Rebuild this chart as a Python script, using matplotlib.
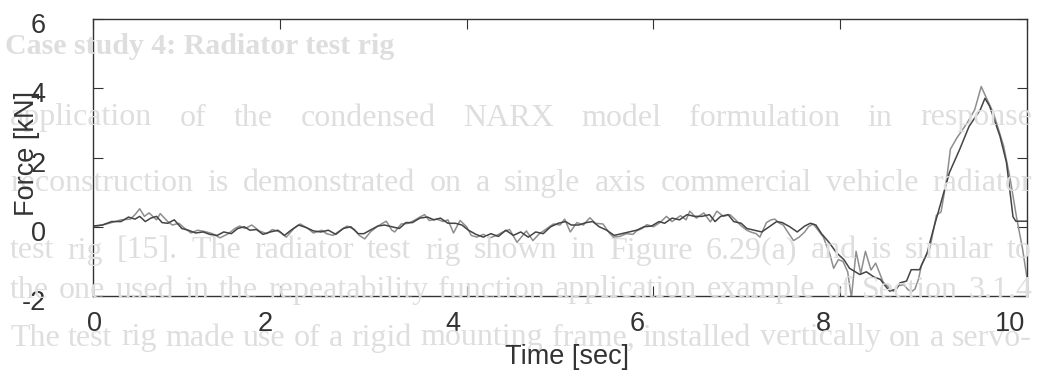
import matplotlib
matplotlib.use("Agg")
import matplotlib.pyplot as plt
import matplotlib.transforms as mtransforms

# measured force (lighter trace)
t_meas = [0.0, 0.1, 0.2, 0.3, 0.4, 0.45, 0.5, 0.55, 0.6, 0.68, 0.72, 0.8, 0.85, 0.92, 0.97,
          1.05, 1.12, 1.2, 1.28, 1.36, 1.45, 1.52, 1.57, 1.63, 1.7, 1.78, 1.86, 1.92,
          2.0, 2.07, 2.15, 2.22, 2.3, 2.36, 2.45, 2.5, 2.57, 2.65, 2.72, 2.8, 2.85, 2.91, 2.97,
          3.04, 3.1, 3.14, 3.2, 3.23, 3.3, 3.38, 3.45, 3.5, 3.55, 3.6, 3.68, 3.75, 3.8, 3.86, 3.93,
          4.0, 4.05, 4.11, 4.18, 4.25, 4.32, 4.39, 4.46, 4.54, 4.6, 4.64, 4.71, 4.78, 4.86, 4.93,
          5.0, 5.05, 5.11, 5.18, 5.25, 5.32, 5.38, 5.46, 5.52, 5.57, 5.64, 5.71, 5.78, 5.82, 5.88, 5.93,
          6.0, 6.07, 6.14, 6.2, 6.29, 6.35, 6.39, 6.46, 6.54, 6.61, 6.68, 6.75, 6.82, 6.88, 6.93,
          7.0, 7.04, 7.1, 7.14, 7.21, 7.26, 7.3, 7.35, 7.39, 7.45, 7.5, 7.56, 7.62, 7.66, 7.71, 7.75,
          7.82, 7.89, 7.93, 7.98, 8.03, 8.08, 8.12, 8.17, 8.22, 8.27, 8.33, 8.38, 8.46, 8.52, 8.57,
          8.63, 8.68, 8.72, 8.76, 8.8, 8.84, 8.87, 8.96, 9.03, 9.08, 9.14, 9.18, 9.25, 9.36, 9.44,
          9.51, 9.56, 9.64, 9.75, 9.82, 9.89, 9.95, 10.0]
f_meas = [0.0, 0.05, 0.12, 0.2, 0.22, 0.35, 0.52, 0.3, 0.4, 0.2, 0.38, 0.15, 0.05, 0.1, -0.02,
          -0.18, -0.1, -0.14, -0.2, -0.32, -0.2, -0.05, 0.02, -0.05, 0.05, -0.12, -0.2, -0.08,
          -0.15, -0.3, -0.05, 0.08, -0.05, -0.18, -0.1, -0.2, -0.25, -0.1, 0.02, -0.08, -0.25, -0.35, -0.15,
          0.0, 0.1, 0.16, -0.1, -0.15, 0.08, 0.1, 0.2, 0.28, 0.35, 0.18, 0.22, 0.15, 0.2, -0.18, 0.18,
          0.0, -0.25, -0.3, -0.22, -0.32, -0.25, -0.15, -0.08, -0.45, -0.25, -0.12, -0.4, -0.2, -0.05, 0.08,
          0.05, 0.22, -0.15, 0.12, 0.05, 0.26, 0.1, 0.08, -0.15, -0.3, -0.28, -0.2, -0.22, -0.12, -0.05, 0.06,
          0.0, 0.12, 0.3, 0.15, 0.32, 0.2, 0.45, 0.25, 0.4, 0.14, 0.45, 0.3, 0.35, 0.2, 0.05,
          -0.1, -0.15, -0.2, -0.3, 0.12, 0.2, 0.22, 0.1, 0.05, -0.2, -0.4, -0.3, -0.15, 0.0, 0.08, -0.05,
          -0.3, -0.8, -1.2, -0.95, -1.0, -1.3, -2.05, -0.71, -1.35, -0.71, -1.25, -1.05, -1.6, -1.75, -1.86,
          -1.7, -1.67, -1.8, -1.88, -1.8, -1.5, -1.1, -0.62, 0.33, 0.43, 1.38, 2.24, 2.57, 3.0, 3.38,
          4.05, 3.75, 3.29, 2.33, 1.38, 0.24, -0.6, -1.48]

# model prediction (darker trace)
t_pred = [0.0, 0.1, 0.2, 0.3, 0.38, 0.45, 0.5, 0.56, 0.62, 0.68, 0.74, 0.8, 0.87, 0.95,
          1.02, 1.1, 1.18, 1.25, 1.33, 1.4, 1.48, 1.55, 1.62, 1.68, 1.75, 1.82, 1.9, 1.98,
          2.05, 2.12, 2.2, 2.28, 2.36, 2.44, 2.52, 2.6, 2.68, 2.76, 2.84, 2.9, 2.98,
          3.05, 3.12, 3.2, 3.28, 3.35, 3.42, 3.5, 3.58, 3.65, 3.72, 3.8, 3.88, 3.95,
          4.02, 4.1, 4.18, 4.26, 4.34, 4.42, 4.5, 4.58, 4.66, 4.74, 4.82, 4.9, 4.98,
          5.06, 5.12, 5.2, 5.28, 5.35, 5.42, 5.5, 5.58, 5.66, 5.74, 5.82, 5.9, 5.98,
          6.06, 6.12, 6.2, 6.28, 6.36, 6.44, 6.52, 6.6, 6.66, 6.72, 6.8, 6.86, 6.94,
          7.0, 7.08, 7.16, 7.24, 7.32, 7.38, 7.46, 7.54, 7.62, 7.68, 7.74, 7.8, 7.88, 7.96,
          8.04, 8.1, 8.16, 8.21, 8.28, 8.36, 8.43, 8.48, 8.53, 8.6, 8.64, 8.71, 8.76, 8.85, 8.93,
          9.0, 9.08, 9.17, 9.28, 9.38, 9.5, 9.55, 9.6, 9.71, 9.78, 9.85, 9.88, 10.0]
f_pred = [0.02, 0.05, 0.15, 0.15, 0.28, 0.22, 0.3, 0.15, 0.25, 0.3, 0.12, 0.1, 0.2, -0.05,
          -0.1, -0.18, -0.15, -0.22, -0.25, -0.15, -0.2, -0.05, 0.0, -0.1, -0.08, -0.22, -0.15, -0.1,
          -0.25, -0.1, 0.05, -0.02, -0.12, -0.15, -0.1, -0.22, -0.05, 0.0, -0.2, -0.2, -0.08,
          0.02, 0.05, 0.0, -0.05, 0.12, 0.12, 0.25, 0.28, 0.2, 0.25, 0.1, 0.1, 0.05,
          -0.1, -0.22, -0.3, -0.2, -0.28, -0.1, -0.25, -0.15, -0.3, -0.15, -0.2, 0.0, 0.1,
          0.15, 0.05, 0.05, 0.12, 0.15, 0.0, -0.1, -0.25, -0.2, -0.15, -0.1, 0.0, 0.02,
          0.15, 0.1, 0.25, 0.2, 0.35, 0.3, 0.3, 0.35, 0.15, 0.3, 0.35, 0.15, 0.1,
          -0.05, -0.1, -0.15, 0.0, 0.15, 0.12, 0.0, -0.15, 0.02, 0.1, 0.05, -0.2, -0.45, -0.75,
          -0.95, -1.2, -1.3, -1.38, -1.3, -1.45, -1.52, -1.7, -1.86, -1.8, -1.62, -1.57, -1.24, -1.24, -0.76,
          -0.05, 0.71, 1.57, 2.24, 2.9, 3.38, 3.71, 3.48, 2.62, 1.86, 0.29, 0.16, 0.16]

xticks = [0, 2, 4, 6, 8, 10]
yticks = [-2, 0, 2, 4, 6]

# faint page text showing through the scan
page_lines = [
    "application of the condensed NARX model formulation in response",
    "reconstruction is demonstrated on a single axis commercial vehicle radiator",
    "test rig [15]. The radiator test rig shown in Figure 6.29(a) and is similar to",
    "the one used in the repeatability function application example of Section 3.1.4",
    "The test rig made use of a rigid mounting frame, installed vertically on a servo-",
]
page_heading = "Case study 4: Radiator test rig"

W, H = 1040, 383
fig = plt.figure(figsize=(W / 100, H / 100), dpi=100)
fig.patch.set_facecolor("white")
page_col = "#dedede"
sans = "Liberation Sans"
fs = 19.5


def justify(words, y_px, x0_px, x1_px, **kw):
    items = [fig.text(0, 1 - y_px / H, w, va="center", ha="left", **kw) for w in words]
    r = fig.canvas.get_renderer()
    widths = [it.get_window_extent(r).width for it in items]
    gap = (x1_px - x0_px - sum(widths)) / max(len(words) - 1, 1)
    x = x0_px
    for it, w in zip(items, widths):
        it.set_x(x / W)
        x += w + gap


fig.text(5 / W, 1 - 47 / H, page_heading, fontsize=21.5, fontweight="bold",
         family="Liberation Serif", color=page_col, va="center", zorder=0)
line_y = [118, 184, 251, 290, 338]
for txt, yy in zip(page_lines, line_y):
    justify(txt.split(), yy, 10, 1032, fontsize=23, family="Liberation Serif",
            color=page_col, zorder=0)

ax = fig.add_axes([93 / W, 1 - 296 / H, (1027 - 93) / W, (296 - 19) / H])
ax.patch.set_alpha(0)
ax.plot(t_meas, f_meas, color="#8e8e8e", lw=1.1)
ax.plot(t_pred, f_pred, color="#444444", lw=1.1)

ax.set_xlim(0, 10)
ax.set_ylim(-2, 6)
ax.set_xticks(xticks)
ax.set_yticks(yticks)
ax.set_xticklabels([str(v) for v in xticks], family=sans)
ax.set_yticklabels([str(v) for v in yticks], family=sans)
ax.tick_params(direction="in", length=7, width=0.8, top=True, right=True,
               labelsize=fs, colors="#333333")
ax.tick_params(axis="y", pad=34)
ax.tick_params(axis="x", pad=11)
for s in ax.spines.values():
    s.set_color("#333333")
    s.set_linewidth(1.0)

# the scanned x tick labels sit a little left of their ticks
shifts = [2, -15, -14, -16, -17, -17]
for lab, dx in zip(ax.get_xticklabels(), shifts):
    lab.set_transform(lab.get_transform() + mtransforms.ScaledTranslation(dx / 100, 0, fig.dpi_scale_trans))
for lab in ax.get_yticklabels():
    lab.set_transform(lab.get_transform() + mtransforms.ScaledTranslation(0, -4 / 100, fig.dpi_scale_trans))

fig.text(27 / W, 1 - 153 / H, "Force [kN]", rotation=90, fontsize=fs, family=sans,
         color="#333333", ha="center", va="center")
fig.text(567 / W, 1 - 357 / H, "Time [sec]", fontsize=fs, family=sans,
         color="#333333", ha="center", va="center")

fig.savefig("out.png", dpi=100)
